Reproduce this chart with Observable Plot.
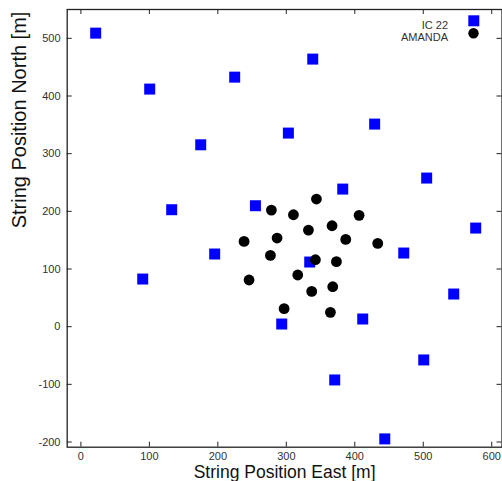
<!DOCTYPE html>
<html><head><meta charset="utf-8">
<script src="https://cdn.jsdelivr.net/npm/d3@7"></script>
<script src="https://cdn.jsdelivr.net/npm/@observablehq/plot@0.6"></script>
<style>html,body{margin:0;padding:0;background:#fff;}</style>
</head><body><div id="chart"></div>
<script>
const seriesNames = ["IC 22", "AMANDA"];
const icEast  = [21.6, 100.5, 224.6, 338.6, 175, 132.6, 303, 429, 382.4, 505, 576.6, 254.9, 90.3, 195.4, 334.2, 471.5, 544.5, 293.3, 411.6, 500.7, 370.7, 443.8];
const icNorth = [509, 412, 432.7, 464, 315.4, 202.8, 335.7, 351.3, 238.6, 257.7, 171, 209.7, 82.6, 126, 112.1, 127.7, 56.6, 4.6, 13.3, -57.7, -92.4, -194.6];
const amEast  = [344, 278.2, 310.4, 406.3, 366.8, 332.3, 238.3, 286.5, 386.8, 433.5, 276.8, 342.5, 373.2, 316.7, 245.6, 337.1, 367.8, 296.8, 364.4];
const amNorth = [221.3, 202.2, 194.1, 193, 175, 167.5, 147.9, 153.7, 151.3, 144.4, 123.6, 116.1, 112.7, 89.6, 80.9, 61.2, 69.3, 31.2, 24.8];
const xTicks = [0, 100, 200, 300, 400, 500, 600];
const yTicks = [-200, -100, 0, 100, 200, 300, 400, 500];
const xTitle = "String Position East [m]";
const yTitle = "String Position North [m]";

const ic = icEast.map((x, i) => ({x, y: icNorth[i]}));
const am = amEast.map((x, i) => ({x, y: amNorth[i]}));

const W = 502, H = 481, mL = 66.7, mR = 0.5, mT = 9, mB = 34.3;
const pw = W - mL - mR, ph = H - mT - mB, tk = 5;
const font = "'Liberation Sans', Arial, Helvetica, sans-serif";

const chart = Plot.plot({
  width: W, height: H,
  marginLeft: mL, marginRight: mR, marginTop: mT, marginBottom: mB,
  x: {domain: [-20, 615]},
  y: {domain: [-209, 550]},
  style: {fontFamily: font, fontSize: "11px", background: "#fff", color: "#333"},
  marks: [
    Plot.axisX(xTicks, {anchor: "bottom", tickSize: 0, tickPadding: 4.5, label: null, tickFormat: d => String(d), fill: "#333"}),
    Plot.axisY(yTicks, {anchor: "left", tickSize: 0, tickPadding: 6.7, label: null, tickFormat: d => String(d), fill: "#333"}),
    Plot.tickX(xTicks, {x: d => d, insetTop: ph - tk, stroke: "#222"}),
    Plot.tickX(xTicks, {x: d => d, insetBottom: ph - tk, stroke: "#222"}),
    Plot.tickY(yTicks, {y: d => d, insetRight: pw - tk, stroke: "#222"}),
    Plot.tickY(yTicks, {y: d => d, insetLeft: pw - tk, stroke: "#222"}),
    Plot.frame({stroke: "#222", strokeWidth: 1.3}),
    Plot.dot(ic, {x: "x", y: "y", symbol: "square", r: 6.2, fill: "#0000ff", stroke: null}),
    Plot.dot(am, {x: "x", y: "y", r: 5.4, fill: "#000", stroke: null}),
    Plot.text([seriesNames[0]], {text: d => d, frameAnchor: "top-right", dx: -54, dy: 11.3, textAnchor: "end", fontSize: 11, fill: "#333"}),
    Plot.text([seriesNames[1]], {text: d => d, frameAnchor: "top-right", dx: -54, dy: 23.7, textAnchor: "end", fontSize: 11, fill: "#333"}),
    Plot.dot([seriesNames[0]], {frameAnchor: "top-right", dx: -28.2, dy: 11.3, symbol: "square", r: 6.2, fill: "#0000ff", stroke: null}),
    Plot.dot([seriesNames[1]], {frameAnchor: "top-right", dx: -28.5, dy: 23.7, r: 5.2, fill: "#000", stroke: null}),
    Plot.text([xTitle], {text: d => d, frameAnchor: "bottom", dy: 24.9, lineAnchor: "middle", fontSize: 17.5, fill: "#111"}),
    Plot.text([yTitle], {text: d => d, frameAnchor: "left", dx: -47.7, rotate: -90, lineAnchor: "middle", fontSize: 20, fill: "#111"})
  ]
});
document.getElementById("chart").appendChild(chart);
</script>
</body></html>
